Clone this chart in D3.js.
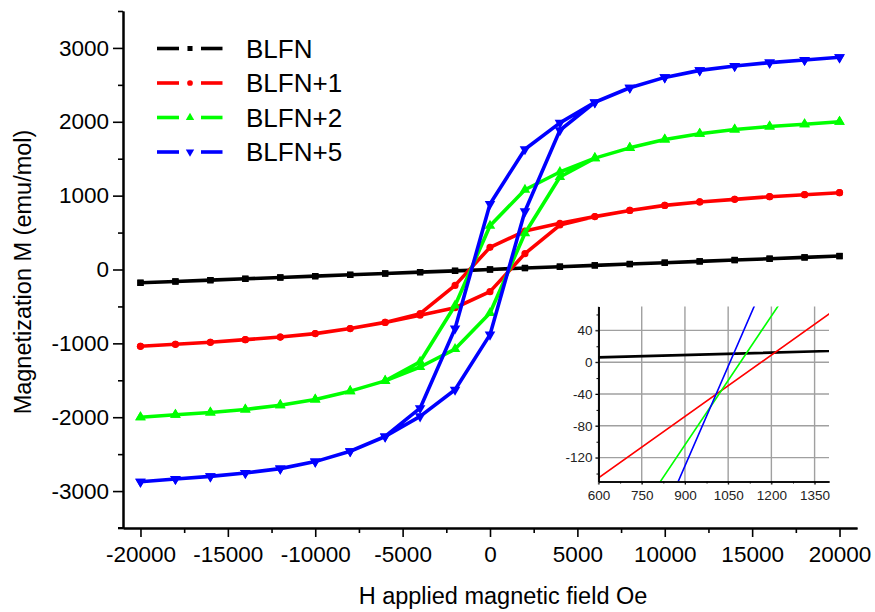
<!DOCTYPE html>
<html><head><meta charset="utf-8">
<script src="https://cdn.jsdelivr.net/npm/d3@7"></script>
<style>
body{margin:0;background:#fff;}
svg{display:block;font-family:"Liberation Sans",Arial,sans-serif;}
</style></head><body>
<svg id="chart" width="875" height="612"></svg>
<script>
// ---- data ----
const fieldH = [-20000,-18000,-16000,-14000,-12000,-10000,-8000,-6000,-4000,-2000,0,2000,4000,6000,8000,10000,12000,14000,16000,18000,20000];
const seriesNames = ["BLFN","BLFN+1","BLFN+2","BLFN+5"];
const seriesColors = ["#000000","#ff0000","#00ff00","#0000ff"];
const seriesSymbols = ["square","circle","up","down"];
// descending branch (field swept from +20000 down) and ascending branch, listed on fieldH order
const blfnDown  = [-180,-162,-144,-126,-108,-90,-72,-54,-36,-18,0,20,38,56,74,92,110,128,146,164,182];
const blfnUp    = [-180,-162,-144,-126,-108,-90,-72,-54,-36,-18,0,20,38,56,74,92,110,128,146,164,182];
const blfn1Down = [-1040,-1013,-986,-950,-915,-868,-800,-716,-598,-215,300,520,625,716,800,868,915,950,986,1013,1040];
const blfn1Up   = [-1040,-1013,-986,-950,-915,-868,-800,-716,-620,-518,-300,215,602,716,800,868,915,950,986,1013,1040];
const blfn2Down = [-2000,-1967,-1936,-1895,-1837,-1760,-1647,-1508,-1250,-487,592,1080,1320,1508,1647,1760,1837,1895,1936,1967,2000];
const blfn2Up   = [-2000,-1967,-1936,-1895,-1837,-1760,-1647,-1508,-1320,-1077,-590,490,1252,1508,1647,1760,1837,1895,1936,1967,2000];
const blfn5Down = [-2873,-2836,-2801,-2755,-2696,-2601,-2461,-2260,-1878,-798,888,1628,1985,2265,2461,2601,2696,2755,2801,2836,2873];
const blfn5Up   = [-2873,-2836,-2801,-2755,-2696,-2601,-2461,-2262,-1988,-1628,-882,788,1885,2262,2461,2601,2696,2755,2801,2836,2873];
const xTicks = [-20000,-15000,-10000,-5000,0,5000,10000,15000,20000];
const xMinor = [-17500,-12500,-7500,-2500,2500,7500,12500,17500];
const yTicks = [-3000,-2000,-1000,0,1000,2000,3000];
const yMinor = [-3500,-2500,-1500,-500,500,1500,2500,3500];
const insetXTicks = [600,750,900,1050,1200,1350];
const insetXMinor = [675,825,975,1125,1275];
const insetYTicks = [-120,-80,-40,0,40];
const insetYMinor = [-140,-100,-60,-20,20,60];

const downs = [blfnDown, blfn1Down, blfn2Down, blfn5Down];
const ups = [blfnUp, blfn1Up, blfn2Up, blfn5Up];
const plain = d => String(d);

// ---- chart ----
const svg = d3.select("#chart");
const x = d3.scaleLinear().domain([-21000, 21000]).range([123, 857]);
const y = d3.scaleLinear().domain([-3500, 3500]).range([528, 11]);

const tickFont = "22.5px";

// axes
const gx = svg.append("g").attr("transform", `translate(0,${y(-3500)})`)
  .call(d3.axisBottom(x).tickValues(xTicks).tickSize(9).tickPadding(9).tickSizeOuter(0).tickFormat(plain));
svg.append("g").attr("transform", `translate(0,${y(-3500)})`)
  .call(d3.axisBottom(x).tickValues(xMinor).tickSize(5).tickSizeOuter(0).tickFormat(""));
const gy = svg.append("g").attr("transform", `translate(${x(-21000)},0)`)
  .call(d3.axisLeft(y).tickValues(yTicks).tickSize(10).tickPadding(4).tickSizeOuter(0).tickFormat(plain));
svg.append("g").attr("transform", `translate(${x(-21000)},0)`)
  .call(d3.axisLeft(y).tickValues(yMinor).tickSize(5).tickSizeOuter(0).tickFormat(""));
svg.selectAll(".domain").attr("stroke", "#000").attr("stroke-width", 2);
svg.selectAll(".tick line").attr("stroke", "#000").attr("stroke-width", 1.6);
gx.selectAll("text").attr("font-size", tickFont).attr("fill", "#000");
gy.selectAll("text").attr("font-size", tickFont).attr("fill", "#000");
// small overhang of the bottom axis line to the left of the y axis
svg.append("line").attr("x1", x(-21000) - 5).attr("x2", x(-21000)).attr("y1", y(-3500)).attr("y2", y(-3500))
  .attr("stroke", "#000").attr("stroke-width", 2);

// axis titles
svg.append("text").attr("x", 503).attr("y", 604).attr("text-anchor", "middle")
  .attr("font-size", "23.5px").text("H applied magnetic field Oe");
svg.append("text").attr("transform", "translate(31,272) rotate(-90)").attr("text-anchor", "middle")
  .attr("font-size", "23.5px").text("Magnetization M (emu/mol)");

function symbolPath(kind) {
  if (kind === "square") return d3.symbol(d3.symbolSquare, 40)();
  if (kind === "circle") return d3.symbol(d3.symbolCircle, 40)();
  return d3.symbol(d3.symbolTriangle, 48)();
}
function loopPoints(i) {
  const pts = [];
  for (let k = fieldH.length - 1; k >= 0; k--) pts.push([fieldH[k], downs[i][k]]);
  for (let k = 0; k < fieldH.length; k++) pts.push([fieldH[k], ups[i][k]]);
  return pts;
}

const line = d3.line().x(d => x(d[0])).y(d => y(d[1]));
seriesNames.forEach((name, i) => {
  const pts = loopPoints(i);
  const g = svg.append("g");
  g.append("path").attr("d", line(pts)).attr("fill", "none")
    .attr("stroke", seriesColors[i]).attr("stroke-width", 3.6).attr("stroke-linejoin", "round");
  g.selectAll("path.m").data(pts).join("path").attr("class", "m")
    .attr("d", symbolPath(seriesSymbols[i]))
    .attr("transform", d => `translate(${x(d[0])},${y(d[1])})` + (seriesSymbols[i] === "down" ? " rotate(180)" : ""))
    .attr("fill", seriesColors[i]);
});

// legend
const legY = [48.5, 83, 117.5, 152];
seriesNames.forEach((name, i) => {
  const g = svg.append("g");
  g.append("line").attr("x1", 157).attr("x2", 179).attr("y1", legY[i]).attr("y2", legY[i])
    .attr("stroke", seriesColors[i]).attr("stroke-width", 3.6);
  g.append("line").attr("x1", 201).attr("x2", 222.5).attr("y1", legY[i]).attr("y2", legY[i])
    .attr("stroke", seriesColors[i]).attr("stroke-width", 3.6);
  g.append("path").attr("d", symbolPath(seriesSymbols[i]))
    .attr("transform", `translate(190,${legY[i]})` + (seriesSymbols[i] === "down" ? " scale(0.8) rotate(180)" : " scale(0.8)"))
    .attr("fill", seriesColors[i]);
  g.append("text").attr("x", 246).attr("y", legY[i] + 9.3).attr("font-size", "26px").text(name);
});

// ---- inset ----
const ix = d3.scaleLinear().domain([600, 1400]).range([598.5, 829]);
const iy = d3.scaleLinear().domain([-150, 70]).range([481.5, 306.5]);
const inset = svg.append("g");
inset.append("rect").attr("x", ix(600)).attr("y", iy(70)).attr("width", ix(1400) - ix(600)).attr("height", iy(-150) - iy(70)).attr("fill", "#fff");
// grid
inset.selectAll("line.gx").data(insetXTicks).join("line").attr("class", "gx")
  .attr("x1", d => ix(d)).attr("x2", d => ix(d)).attr("y1", iy(70)).attr("y2", iy(-150) + 3)
  .attr("stroke", "#a0a0a0").attr("stroke-width", 1.4);
inset.selectAll("line.gy").data(insetYTicks).join("line").attr("class", "gy")
  .attr("y1", d => iy(d)).attr("y2", d => iy(d)).attr("x1", ix(600) - 3).attr("x2", ix(1400))
  .attr("stroke", "#a0a0a0").attr("stroke-width", 1.4);
svg.append("clipPath").attr("id", "iclip").append("rect")
  .attr("x", ix(600)).attr("y", iy(70)).attr("width", ix(1400) - ix(600)).attr("height", iy(-150) - iy(70));
const iline = d3.line().x(d => ix(d[0])).y(d => iy(d[1]));
const ic = inset.append("g").attr("clip-path", "url(#iclip)");
seriesNames.forEach((name, i) => {
  ic.append("path").attr("d", iline(loopPoints(i))).attr("fill", "none")
    .attr("stroke", seriesColors[i]).attr("stroke-width", i === 0 ? 2.6 : 1.6);
});
// inset axes
const igx = inset.append("g").attr("transform", `translate(0,${iy(-150)})`)
  .call(d3.axisBottom(ix).tickValues(insetXTicks).tickSize(3).tickPadding(6).tickSizeOuter(0).tickFormat(plain));
inset.append("g").attr("transform", `translate(0,${iy(-150)})`)
  .call(d3.axisBottom(ix).tickValues(insetXMinor).tickSize(2).tickFormat("").tickSizeOuter(0));
const igy = inset.append("g").attr("transform", `translate(${ix(600)},0)`)
  .call(d3.axisLeft(iy).tickValues(insetYTicks).tickSize(3).tickPadding(3).tickSizeOuter(0).tickFormat(plain));
inset.append("g").attr("transform", `translate(${ix(600)},0)`)
  .call(d3.axisLeft(iy).tickValues(insetYMinor).tickSize(2).tickFormat("").tickSizeOuter(0));
inset.selectAll(".domain").attr("stroke", "#000").attr("stroke-width", 1.5);
inset.selectAll(".tick line").attr("stroke", "#000").attr("stroke-width", 1);
igx.selectAll("text").attr("font-size", "13.5px").attr("fill", "#222");
igy.selectAll("text").attr("font-size", "13.5px").attr("fill", "#222");
</script>
</body></html>
